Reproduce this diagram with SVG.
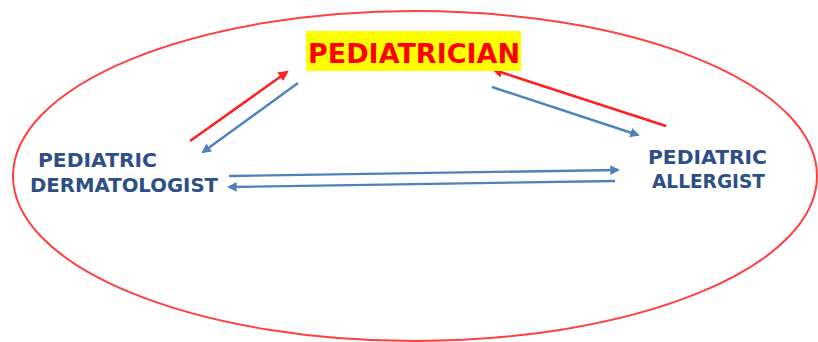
<svg xmlns="http://www.w3.org/2000/svg" width="818" height="342" viewBox="0 0 818 342">
<defs>
<style>
.red{stroke:#ff2020;stroke-width:2.6;fill:none}
.blue{stroke:#4f81bd;stroke-width:2.4;fill:none}
.lbl{font-family:"Comic Sans MS","DejaVu Sans","Liberation Sans",sans-serif;font-weight:bold;fill:#2e4e86;font-size:19px}
.title{font-family:"Comic Sans MS","DejaVu Sans","Liberation Sans",sans-serif;font-weight:bold;fill:#ff0000;font-size:27px}
</style>
<marker id="ar" viewBox="0 0 10 10" refX="8" refY="5" markerWidth="4" markerHeight="4" orient="auto" markerUnits="strokeWidth">
<path d="M0,0 L10,5 L0,10 z" fill="#ff2020"/>
</marker>
<marker id="ab" viewBox="0 0 10 10" refX="8" refY="5" markerWidth="4" markerHeight="4" orient="auto" markerUnits="strokeWidth">
<path d="M0,0 L10,5 L0,10 z" fill="#4f81bd"/>
</marker>
</defs>
<rect width="818" height="342" fill="#ffffff"/>
<ellipse id="boundary" cx="415" cy="176" rx="402" ry="165" fill="none" stroke="#ff4040" stroke-width="2"/>
<g id="connectors">
<line class="red" x1="190" y1="141" x2="287" y2="72" marker-end="url(#ar)"/>
<line class="blue" x1="298" y1="83" x2="203" y2="152" marker-end="url(#ab)"/>
<line class="red" x1="666" y1="126" x2="494" y2="70" marker-end="url(#ar)"/>
<line class="blue" x1="492" y1="87" x2="638" y2="135" marker-end="url(#ab)"/>
<line class="blue" x1="229" y1="176" x2="618" y2="170" marker-end="url(#ab)"/>
<line class="blue" x1="615" y1="181" x2="229" y2="187" marker-end="url(#ab)"/>
</g>
<g id="pediatrician">
<rect x="306" y="31" width="215" height="40" fill="#ffff00"/>
<text class="title" x="308" y="63" textLength="212" lengthAdjust="spacingAndGlyphs">PEDIATRICIAN</text>
</g>
<g id="dermatologist">
<text class="lbl" x="38" y="167" textLength="119" lengthAdjust="spacingAndGlyphs">PEDIATRIC</text>
<text class="lbl" x="30" y="192" textLength="188" lengthAdjust="spacingAndGlyphs">DERMATOLOGIST</text>
</g>
<g id="allergist">
<text class="lbl" x="648" y="164" textLength="119" lengthAdjust="spacingAndGlyphs">PEDIATRIC</text>
<text class="lbl" x="652" y="188" textLength="113" lengthAdjust="spacingAndGlyphs">ALLERGIST</text>
</g>
</svg>
